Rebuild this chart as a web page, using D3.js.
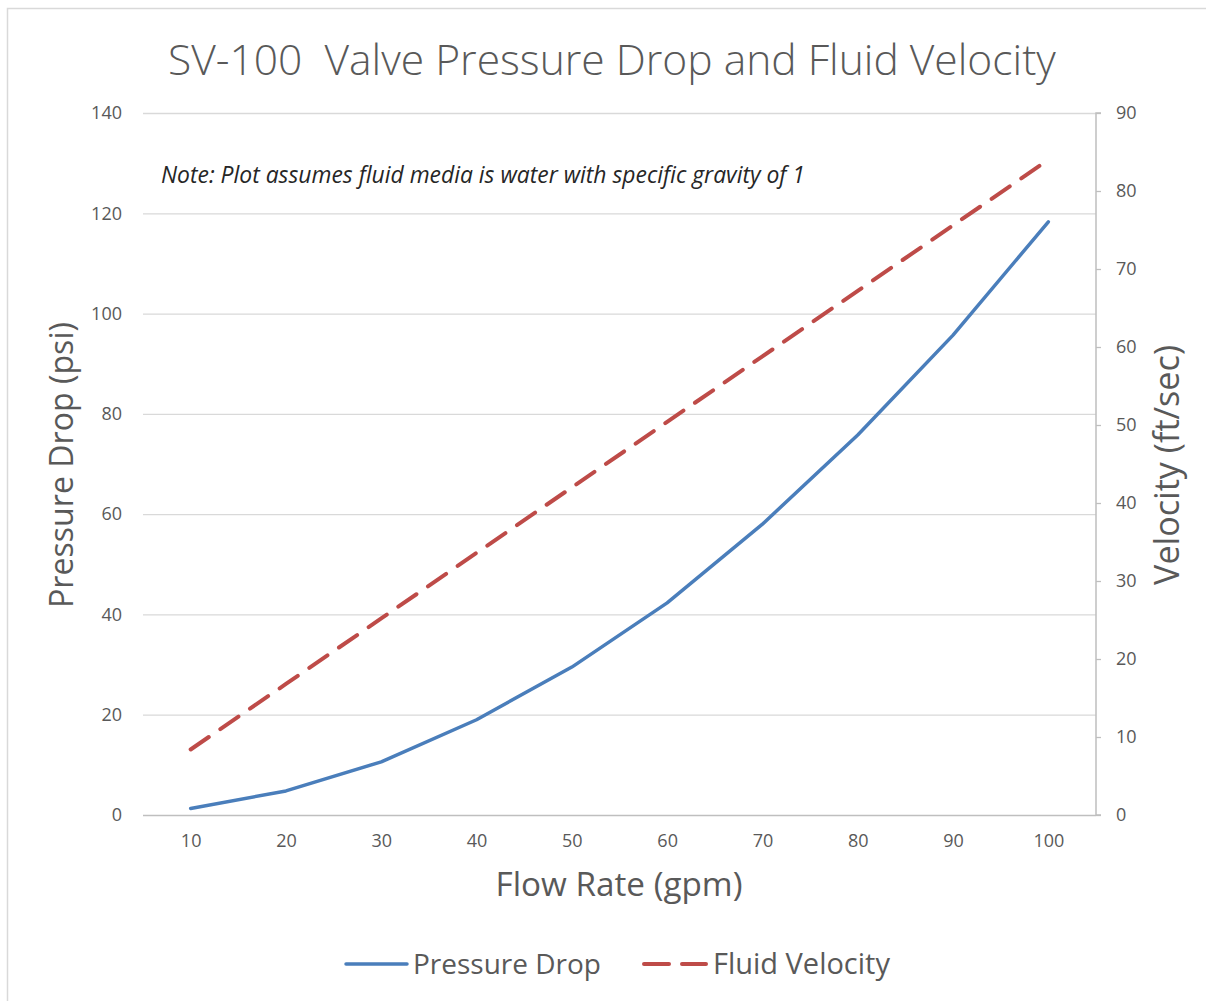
<!DOCTYPE html>
<html>
<head>
<meta charset="utf-8">
<script src="https://cdn.jsdelivr.net/npm/d3@7"></script>
<style>
  html, body { margin: 0; padding: 0; background: #fff; }
  svg { display: block; font-family: "Open Sans", "DejaVu Sans", sans-serif; }
</style>
</head>
<body>
<svg id="chart" width="1206" height="1001"></svg>
<script>
// ---- data ----
const categories = [10, 20, 30, 40, 50, 60, 70, 80, 90, 100];
const pressureDrop = [1.3, 4.8, 10.6, 19.0, 29.5, 42.3, 58.0, 75.8, 95.7, 118.3];
const fluidVelocity = [8.4, 16.8, 25.2, 33.6, 42.0, 50.4, 58.8, 67.2, 75.6, 84.0];
const leftTicks = [0, 20, 40, 60, 80, 100, 120, 140];
const rightTicks = [0, 10, 20, 30, 40, 50, 60, 70, 80, 90];
const seriesNames = ["Pressure Drop", "Fluid Velocity"];
const titleText = "SV-100  Valve Pressure Drop and Fluid Velocity";
const noteText = "Note: Plot assumes fluid media is water with specific gravity of 1";
const xTitle = "Flow Rate (gpm)";
const yLeftTitle = "Pressure Drop (psi)";
const yRightTitle = "Velocity (ft/sec)";

// ---- layout ----
const svg = d3.select("#chart");
const plot = { left: 143, right: 1096, top: 113, bottom: 815 };
const textColor = "#595959";
const gridColor = "#d9d9d9";
const axisColor = "#bfbfbf";
const blue = "#4a7ebb";
const red = "#be4b48";

function fit(sel, target) {
  const node = sel.node();
  const fs = parseFloat(sel.attr("font-size"));
  const len = node.getComputedTextLength();
  if (len > 0) sel.attr("font-size", (fs * target / len).toFixed(2));
  return sel;
}

// chart border
svg.append("rect").attr("x", 7.5).attr("y", 8.5).attr("width", 1300).attr("height", 1100)
  .attr("fill", "none").attr("stroke", "#d9d9d9").attr("stroke-width", 1.5);

const x = d3.scalePoint().domain(categories).range([plot.left, plot.right]).padding(0.5);
const yL = d3.scaleLinear().domain([0, 140]).range([plot.bottom, plot.top]);
const yR = d3.scaleLinear().domain([0, 90]).range([plot.bottom, plot.top]);

// gridlines
svg.append("g").selectAll("line").data(leftTicks.filter(d => d > 0)).join("line")
  .attr("x1", plot.left).attr("x2", plot.right)
  .attr("y1", d => yL(d) + 0.5).attr("y2", d => yL(d) + 0.5)
  .attr("stroke", gridColor).attr("stroke-width", 1.3);

// left axis (labels only)
const gLeft = svg.append("g").attr("transform", `translate(${plot.left},0)`)
  .call(d3.axisLeft(yL).tickValues(leftTicks).tickSize(0).tickPadding(21));
gLeft.select(".domain").remove();
gLeft.selectAll("text").attr("font-size", 18).attr("fill", textColor)
  .attr("font-family", "Open Sans");

// right axis
const gRight = svg.append("g").attr("transform", `translate(${plot.right},0)`)
  .call(d3.axisRight(yR).tickValues(rightTicks).tickSize(5).tickPadding(15));
gRight.select(".domain").attr("stroke", axisColor).attr("stroke-width", 1.5)
  .attr("d", `M5,${plot.top}H0V${plot.bottom}H5`);
gRight.selectAll(".tick line").attr("stroke", axisColor).attr("stroke-width", 1.3);
gRight.selectAll("text").attr("font-size", 18).attr("fill", textColor)
  .attr("font-family", "Open Sans");

// bottom axis
const gBottom = svg.append("g").attr("transform", `translate(0,${plot.bottom})`)
  .call(d3.axisBottom(x).tickSize(0).tickPadding(19));
gBottom.select(".domain").attr("stroke", axisColor).attr("stroke-width", 1.5)
  .attr("d", `M${plot.left},0.5H${plot.right}`);
gBottom.selectAll("text").attr("font-size", 18).attr("fill", textColor)
  .attr("font-family", "Open Sans");

// lines
const lineL = d3.line().x((d, i) => x(categories[i])).y(d => yL(d));
const lineR = d3.line().x((d, i) => x(categories[i])).y(d => yR(d));

svg.append("path").datum(pressureDrop).attr("d", lineL)
  .attr("fill", "none").attr("stroke", blue).attr("stroke-width", 3.5)
  .attr("stroke-linecap", "round").attr("stroke-linejoin", "round");

svg.append("path").datum(fluidVelocity).attr("d", lineR)
  .attr("fill", "none").attr("stroke", red).attr("stroke-width", 4)
  .attr("stroke-linecap", "round").attr("stroke-dasharray", "22 14");

// title
fit(svg.append("text").attr("x", 612).attr("y", 75).attr("text-anchor", "middle")
  .attr("xml:space", "preserve").style("white-space", "pre")
  .attr("font-size", 40).attr("font-weight", 300).attr("fill", textColor).text(titleText), 888);

// note
fit(svg.append("text").attr("x", 161).attr("y", 183).attr("font-size", 20)
  .attr("font-style", "italic").attr("fill", "#262626").text(noteText), 644);

// axis titles
fit(svg.append("text").attr("x", 619).attr("y", 896).attr("text-anchor", "middle")
  .attr("font-size", 28).attr("fill", textColor).text(xTitle), 247);

fit(svg.append("text").attr("transform", "translate(73,465) rotate(-90)")
  .attr("text-anchor", "middle").attr("font-size", 28).attr("fill", textColor)
  .text(yLeftTitle), 286);

fit(svg.append("text").attr("transform", "translate(1179,465) rotate(-90)")
  .attr("text-anchor", "middle").attr("font-size", 28).attr("fill", textColor)
  .text(yRightTitle), 240);

// legend
const legendItems = [
  { name: seriesNames[0], color: blue, dash: null, x1: 346, x2: 407, tx: 413, tw: 188 },
  { name: seriesNames[1], color: red, dash: "25 13", x1: 644, x2: 706, tx: 713, tw: 177 }
];
const lg = svg.append("g");
legendItems.forEach(it => {
  lg.append("line").attr("x1", it.x1).attr("x2", it.x2).attr("y1", 964).attr("y2", 964)
    .attr("stroke", it.color).attr("stroke-width", it.dash ? 4 : 3.5)
    .attr("stroke-linecap", "round").attr("stroke-dasharray", it.dash);
  fit(lg.append("text").attr("x", it.tx).attr("y", 974).attr("font-size", 26)
    .attr("fill", textColor).text(it.name), it.tw);
});
</script>
</body>
</html>
